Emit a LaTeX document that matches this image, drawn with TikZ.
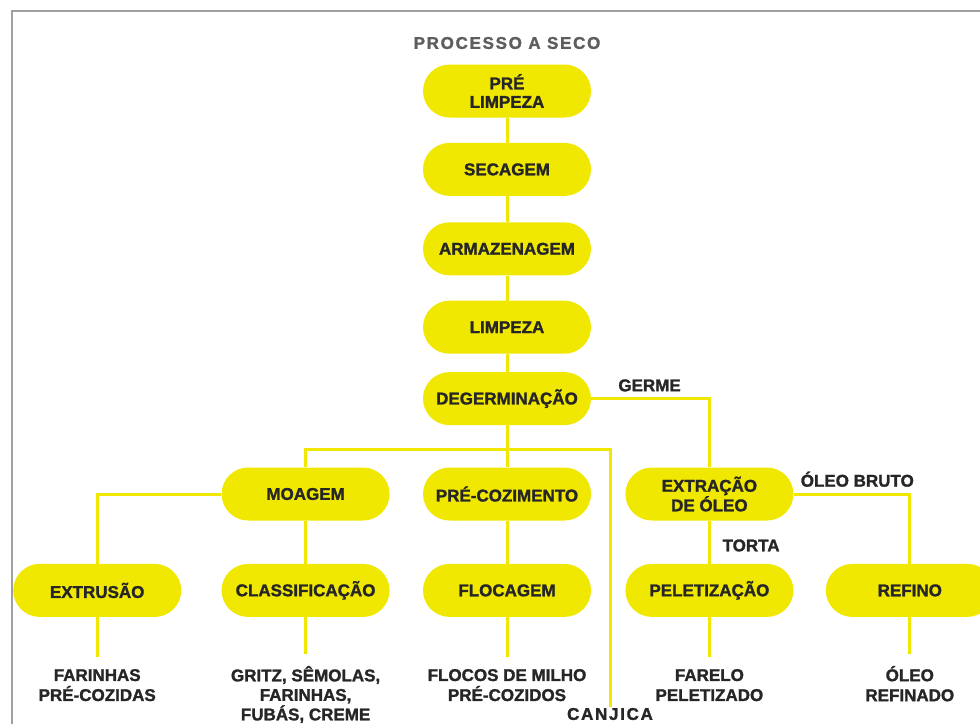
\documentclass[tikz,border=0pt]{standalone}
\usepackage{fontspec}
\setmainfont{Liberation Sans}[BoldFeatures={FakeBold=1.5}]
\newfontfamily\espacada{Liberation Sans}[LetterSpace=10, BoldFeatures={FakeBold=1.5}]
\usetikzlibrary{positioning}
\definecolor{milho}{HTML}{F0E800}
\definecolor{textoesc}{HTML}{262626}
\definecolor{titulocinza}{HTML}{5E5E5E}
\definecolor{molduracinza}{HTML}{A0A0A0}

\begin{document}
\begin{tikzpicture}[
    x=1pt, y=-1pt,
    etapa/.style={rectangle, rounded corners=26.5pt, fill=milho, text=textoesc,
                  minimum width=168pt, minimum height=53pt, align=center, inner sep=2pt,
                  font=\fontsize{17}{18.5}\selectfont\bfseries},
    produto/.style={align=center, text=textoesc, inner sep=0pt, outer sep=12pt,
                    font=\fontsize{17}{20}\selectfont\bfseries},
    rotulo/.style={text=textoesc, inner sep=1pt, font=\fontsize{17}{20}\selectfont\bfseries},
    liga/.style={draw=milho, line width=3pt}
]
    \useasboundingbox (0,0) rectangle (980,724);
    \clip (0,0) rectangle (980,724);
    \draw[molduracinza, line width=2pt] (12,724) -- (12,11) -- (980,11);

    % Nodes
    \node[font=\espacada\fontsize{17}{20}\selectfont\bfseries, text=titulocinza] (titulo) at (507,43) {PROCESSO A SECO};
    \node[etapa] (prelimpeza) at (507,91) {PRÉ\\LIMPEZA};
    \node[etapa, below=25pt of prelimpeza] (secagem) {SECAGEM};
    \node[etapa, below=26pt of secagem] (armazenagem) {ARMAZENAGEM};
    \node[etapa, below=25pt of armazenagem] (limpeza) {LIMPEZA};
    \node[etapa, below=18pt of limpeza] (degerminacao) {DEGERMINAÇÃO};
    \node[etapa, below=42pt of degerminacao] (precozimento) {PRÉ-COZIMENTO};
    \node[etapa, left=33pt of precozimento] (moagem) {MOAGEM};
    \node[etapa, right=34pt of precozimento] (extracao) {EXTRAÇÃO\\DE ÓLEO};
    \node[etapa, below=43pt of moagem] (classificacao) {CLASSIFICAÇÃO};
    \node[etapa, left=40pt of classificacao] (extrusao) {EXTRUSÃO};
    \node[etapa, below=43pt of precozimento] (flocagem) {FLOCAGEM};
    \node[etapa, below=43pt of extracao] (peletizacao) {PELETIZAÇÃO};
    \node[etapa, right=32pt of peletizacao] (refino) {REFINO};

    % Products
    \node[produto, below=40pt of extrusao] (farinhas) {FARINHAS\\PRÉ-COZIDAS};
    \node[produto, below=37pt of classificacao, font=\fontsize{17}{19.5}\selectfont\bfseries] (gritz) {GRITZ, SÊMOLAS,\\FARINHAS,\\FUBÁS, CREME};
    \node[produto, below=40pt of flocagem] (flocos) {FLOCOS DE MILHO\\PRÉ-COZIDOS};
    \node[produto, below=40pt of peletizacao] (farelo) {FARELO\\PELETIZADO};
    \node[produto, below=37pt of refino] (oleorefinado) {ÓLEO\\REFINADO};
    \node[rotulo, font=\espacada\fontsize{17}{20}\selectfont\bfseries] (canjica) at (610,714) {CANJICA};

    % Links
    \coordinate[below=24pt of degerminacao.south] (ramal);
    \draw[liga] (prelimpeza) -- (secagem);
    \draw[liga] (secagem) -- (armazenagem);
    \draw[liga] (armazenagem) -- (limpeza);
    \draw[liga] (limpeza) -- (degerminacao);
    \draw[liga] (degerminacao) -- (precozimento);
    \draw[liga] (moagem.north) |- (ramal) -| (canjica.north);
    \draw[liga] (moagem.west) -| (extrusao.north);
    \draw[liga] (moagem) -- (classificacao);
    \draw[liga] (precozimento) -- (flocagem);
    \draw[liga] (degerminacao.east) -| (extracao.north);
    \draw[liga] (extracao) -- (peletizacao);
    \draw[liga] (extracao.east) -| (refino.north);
    \draw[liga] (extrusao) -- (farinhas);
    \draw[liga] (classificacao) -- (gritz);
    \draw[liga] (flocagem) -- (flocos);
    \draw[liga] (peletizacao) -- (farelo);
    \draw[liga] (refino) -- (oleorefinado);

    % Labels
    \node[rotulo, above right=6pt and 26pt of degerminacao.east] (germe) {GERME};
    \node[rotulo, above right=6pt and 6pt of extracao.east] (oleobruto) {ÓLEO BRUTO};
    \node[rotulo, above right=11pt and 12pt of peletizacao.north] (torta) {TORTA};
\end{tikzpicture}
\end{document}
